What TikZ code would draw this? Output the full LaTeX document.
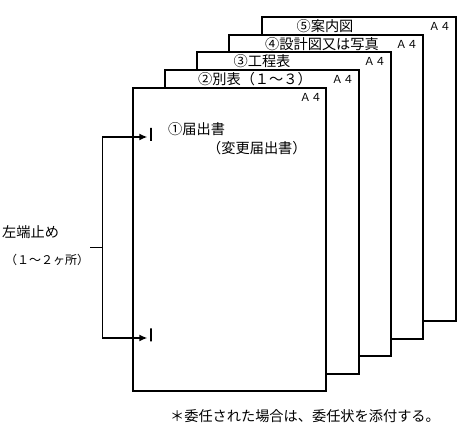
\documentclass[tikz,border=0pt]{standalone}
\usepackage{fontspec}
\setmainfont{Noto Sans CJK JP}
\usetikzlibrary{arrows.meta,positioning}
\tikzset{>=Latex,
  sheet/.style={draw,fill=white,line width=2pt,inner sep=0pt,outer sep=0pt,
    minimum width=194pt,minimum height=304pt,anchor=north west},
  title/.style={font=\fontsize{14.2}{17}\selectfont,inner sep=0pt},
  sizetag/.style={font=\fontsize{11}{13}\selectfont,inner sep=0pt,anchor=east},
  sidenote/.style={font=\fontsize{14.2}{17}\selectfont,inner sep=0pt,anchor=west},
  staple/.style={draw,line width=1.3pt,inner sep=0pt,minimum width=0pt,minimum height=13pt},
  bracket/.style={draw,line width=.9pt},
  pinarrow/.style={-{Latex[length=8pt,width=7pt]},line width=1.5pt,shorten >=3pt}}

\begin{document}
\begin{tikzpicture}[x=1pt,y=-1pt]
\useasboundingbox (0,0) rectangle (475,427);

% sheets, back to front
\node[sheet] (s5) at (262,17) {};
\node[sheet] (s4) at (229,35) {};
\node[sheet] (s3) at (197,52) {};
\node[sheet] (s2) at (165,70) {};
\node[sheet,line width=1.7pt,minimum width=193pt,minimum height=303pt] (s1) at (133,88) {};

\node[title] (t5) at (325,26) {⑤案内図};
\node[title] (t4) at (322,44) {④設計図又は写真};
\node[title] (t3) at (262,61) {③工程表};
\node[title] (t2) at (255,79) {②別表（１～３）};
\node[sizetag] (a5) at ([xshift=-5pt,yshift=-9pt]s5.north east) {Ａ４};
\node[sizetag] (a4) at ([xshift=-5pt,yshift=-9pt]s4.north east) {Ａ４};
\node[sizetag] (a3) at ([xshift=-5pt,yshift=-9pt]s3.north east) {Ａ４};
\node[sizetag] (a2) at ([xshift=-5pt,yshift=-9pt]s2.north east) {Ａ４};
\node[sizetag] (a1) at ([xshift=-4pt,yshift=-9pt]s1.north east) {Ａ４};

\node[title,anchor=west] (t1) at (168,129) {①届出書};
\node[title,anchor=west] (t1b) at (207,148) {（変更届出書）};

% staples and bracket
\node[staple] (pinT) at (151,134.5) {};
\node[staple] (pinB) at (151,335) {};
\coordinate (bT) at (102,137);\coordinate (bB) at (102,338);
\coordinate (bM) at (102,247);\coordinate (tick) at (90,247);
\draw[bracket] (bT) -- (bB) (tick) -- (bM);
\draw[pinarrow] (bT) -- (pinT.west |- bT);
\draw[pinarrow] (bB) -- (pinB.west |- bB);

\node[sidenote] (fix) at (2,232) {左端止め};
\node[sidenote,font=\fontsize{12}{14}\selectfont] (fixn) at (5,260) {（１～２ヶ所）};

\node[title] (memo) at (305,416) {＊委任された場合は、委任状を添付する。};
\end{tikzpicture}
\end{document}
